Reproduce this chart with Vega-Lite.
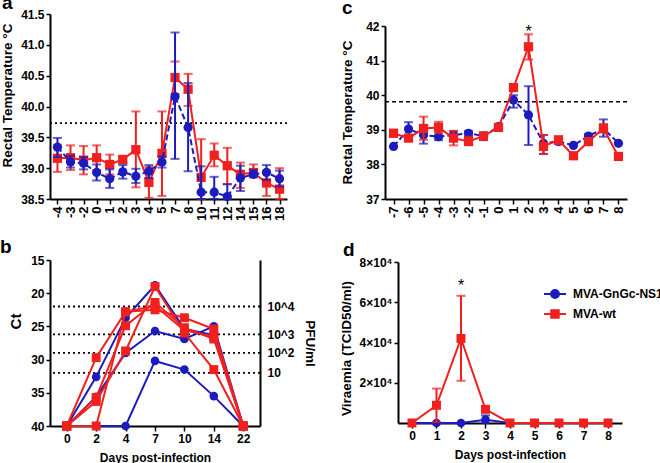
{
"$schema":"https://vega.github.io/schema/vega-lite/v6.json",
"autosize":{"type":"none"},
"padding":{"left":50,"top":14,"right":610,"bottom":449},
"background":"white",
"config":{"view":{"stroke":null},"font":"Liberation Sans",
 "axis":{"labelFont":"Liberation Sans","titleFont":"Liberation Sans","labelFontWeight":"bold","titleFontWeight":"bold","labelColor":"#000","titleColor":"#000","domainColor":"#000","tickColor":"#000","domainWidth":2,"tickWidth":1.5,"grid":false,"labelFontSize":12,"titleFontSize":13.5,"tickSize":4,"labelPadding":2,"labelOverlap":false},
 "title":{"font":"Liberation Sans","fontWeight":"bold","fontSize":19,"color":"#000","anchor":"start","frame":"group"}},
"datasets":{
"tA":[
{"d":-4,"g":"W","m":39.16,"lo":38.94,"hi":39.38},{"d":-3,"g":"W","m":39.17,"lo":38.97,"hi":39.37},{"d":-2,"g":"W","m":39.13,"lo":38.90,"hi":39.36},{"d":0,"g":"W","m":39.17,"lo":38.97,"hi":39.37},{"d":1,"g":"W","m":39.06,"lo":38.90,"hi":39.22},{"d":2,"g":"W","m":39.14,"lo":39.08,"hi":39.20},{"d":3,"g":"W","m":39.30,"lo":38.69,"hi":39.92},{"d":4,"g":"W","m":38.77,"lo":38.52,"hi":39.02},{"d":5,"g":"W","m":39.24,"lo":38.55,"hi":39.92},{"d":7,"g":"W","m":40.47,"lo":40.20,"hi":40.73},{"d":8,"g":"W","m":40.28,"lo":40.01,"hi":40.53},{"d":10,"g":"W","m":38.85,"lo":38.23,"hi":39.47},{"d":11,"g":"W","m":39.21,"lo":39.03,"hi":39.40},{"d":12,"g":"W","m":39.04,"lo":38.74,"hi":39.33},{"d":14,"g":"W","m":38.90,"lo":38.68,"hi":39.09},{"d":15,"g":"W","m":38.93,"lo":38.88,"hi":39.06},{"d":16,"g":"W","m":38.76,"lo":38.55,"hi":38.96},{"d":18,"g":"W","m":38.66,"lo":38.45,"hi":39.00},
{"d":-4,"g":"B","m":39.34,"lo":39.18,"hi":39.49},{"d":-3,"g":"B","m":39.10,"lo":39.01,"hi":39.20},{"d":-2,"g":"B","m":39.08,"lo":38.98,"hi":39.18},{"d":0,"g":"B","m":38.93,"lo":38.80,"hi":39.06},{"d":1,"g":"B","m":38.83,"lo":38.68,"hi":38.98},{"d":2,"g":"B","m":38.94,"lo":38.83,"hi":39.05},{"d":3,"g":"B","m":38.87,"lo":38.76,"hi":38.99},{"d":4,"g":"B","m":38.95,"lo":38.84,"hi":39.05},{"d":5,"g":"B","m":39.10,"lo":39.01,"hi":39.19},{"d":7,"g":"B","m":40.16,"lo":39.15,"hi":41.20},{"d":8,"g":"B","m":39.66,"lo":38.95,"hi":40.38},{"d":10,"g":"B","m":38.61,"lo":38.20,"hi":39.03},{"d":11,"g":"B","m":38.61,"lo":38.35,"hi":38.86},{"d":12,"g":"B","m":38.54,"lo":38.35,"hi":38.74},{"d":14,"g":"B","m":38.84,"lo":38.63,"hi":39.04},{"d":15,"g":"B","m":38.90,"lo":38.85,"hi":38.97},{"d":16,"g":"B","m":38.93,"lo":38.81,"hi":39.05},{"d":18,"g":"B","m":38.83,"lo":38.70,"hi":38.96}],
"tC":[
{"d":-7,"g":"W","m":38.90,"lo":38.80,"hi":39.00},{"d":-6,"g":"W","m":38.76,"lo":38.70,"hi":38.82},{"d":-5,"g":"W","m":39.04,"lo":38.71,"hi":39.38},{"d":-4,"g":"W","m":39.07,"lo":38.90,"hi":39.23},{"d":-3,"g":"W","m":38.76,"lo":38.55,"hi":38.97},{"d":-2,"g":"W","m":38.66,"lo":38.58,"hi":38.80},{"d":-1,"g":"W","m":38.82,"lo":38.75,"hi":38.90},{"d":0,"g":"W","m":39.07,"lo":39.00,"hi":39.14},{"d":1,"g":"W","m":40.22,"lo":40.15,"hi":40.30},{"d":2,"g":"W","m":41.40,"lo":41.03,"hi":41.76},{"d":3,"g":"W","m":38.52,"lo":38.30,"hi":38.85},{"d":4,"g":"W","m":38.71,"lo":38.58,"hi":38.80},{"d":5,"g":"W","m":38.25,"lo":38.25,"hi":38.25},{"d":6,"g":"W","m":38.66,"lo":38.66,"hi":38.66},{"d":7,"g":"W","m":39.04,"lo":38.92,"hi":39.17},{"d":8,"g":"W","m":38.23,"lo":38.23,"hi":38.23},
{"d":-7,"g":"B","m":38.52,"lo":38.52,"hi":38.52},{"d":-6,"g":"B","m":39.02,"lo":38.82,"hi":39.22},{"d":-5,"g":"B","m":38.85,"lo":38.60,"hi":39.08},{"d":-4,"g":"B","m":38.80,"lo":38.70,"hi":38.95},{"d":-3,"g":"B","m":38.85,"lo":38.72,"hi":38.96},{"d":-2,"g":"B","m":38.90,"lo":38.82,"hi":38.97},{"d":-1,"g":"B","m":38.82,"lo":38.70,"hi":38.92},{"d":0,"g":"B","m":39.09,"lo":39.02,"hi":39.16},{"d":1,"g":"B","m":39.86,"lo":39.64,"hi":40.00},{"d":2,"g":"B","m":39.43,"lo":38.56,"hi":40.26},{"d":3,"g":"B","m":38.61,"lo":38.30,"hi":38.85},{"d":4,"g":"B","m":38.66,"lo":38.60,"hi":38.72},{"d":5,"g":"B","m":38.55,"lo":38.55,"hi":38.55},{"d":6,"g":"B","m":38.82,"lo":38.74,"hi":38.88},{"d":7,"g":"B","m":39.04,"lo":38.80,"hi":39.30},{"d":8,"g":"B","m":38.61,"lo":38.61,"hi":38.61}],
"tB":[
{"d":0,"g":"B","a":"B1","ct":40},{"d":2,"g":"B","a":"B1","ct":32.6},{"d":4,"g":"B","a":"B1","ct":23.7},{"d":7,"g":"B","a":"B1","ct":18.8},{"d":10,"g":"B","a":"B1","ct":25.4},{"d":14,"g":"B","a":"B1","ct":26.3},{"d":22,"g":"B","a":"B1","ct":40},
{"d":0,"g":"B","a":"B2","ct":40},{"d":2,"g":"B","a":"B2","ct":35.6},{"d":4,"g":"B","a":"B2","ct":29.0},{"d":7,"g":"B","a":"B2","ct":25.7},{"d":10,"g":"B","a":"B2","ct":26.9},{"d":14,"g":"B","a":"B2","ct":25.0},{"d":22,"g":"B","a":"B2","ct":40},
{"d":0,"g":"B","a":"B3","ct":40},{"d":2,"g":"B","a":"B3","ct":40},{"d":4,"g":"B","a":"B3","ct":40},{"d":7,"g":"B","a":"B3","ct":30.2},{"d":10,"g":"B","a":"B3","ct":31.5},{"d":14,"g":"B","a":"B3","ct":35.5},{"d":22,"g":"B","a":"B3","ct":40},
{"d":0,"g":"W","a":"R1","ct":40},{"d":2,"g":"W","a":"R1","ct":29.7},{"d":4,"g":"W","a":"R1","ct":22.8},{"d":7,"g":"W","a":"R1","ct":22.5},{"d":10,"g":"W","a":"R1","ct":23.7},{"d":14,"g":"W","a":"R1","ct":25.4},{"d":22,"g":"W","a":"R1","ct":40},
{"d":0,"g":"W","a":"R2","ct":40},{"d":2,"g":"W","a":"R2","ct":35.7},{"d":4,"g":"W","a":"R2","ct":24.9},{"d":7,"g":"W","a":"R2","ct":21.4},{"d":10,"g":"W","a":"R2","ct":25.2},{"d":14,"g":"W","a":"R2","ct":26.9},{"d":22,"g":"W","a":"R2","ct":40},
{"d":0,"g":"W","a":"R3","ct":40},{"d":2,"g":"W","a":"R3","ct":36.3},{"d":4,"g":"W","a":"R3","ct":28.7},{"d":7,"g":"W","a":"R3","ct":19.0},{"d":10,"g":"W","a":"R3","ct":26.0},{"d":14,"g":"W","a":"R3","ct":31.5},{"d":22,"g":"W","a":"R3","ct":40},
{"d":0,"g":"W","a":"R4","ct":40},{"d":2,"g":"W","a":"R4","ct":40},{"d":4,"g":"W","a":"R4","ct":22.8},{"d":7,"g":"W","a":"R4","ct":21.9},{"d":10,"g":"W","a":"R4","ct":25.6},{"d":14,"g":"W","a":"R4","ct":26.5},{"d":22,"g":"W","a":"R4","ct":40}],
"tD":[
{"d":0,"g":"MVA-GnGc-NS1","m":0,"lo":0,"hi":0},{"d":1,"g":"MVA-GnGc-NS1","m":0,"lo":0,"hi":0},{"d":2,"g":"MVA-GnGc-NS1","m":0,"lo":0,"hi":0},{"d":3,"g":"MVA-GnGc-NS1","m":1660,"lo":0,"hi":3800},{"d":4,"g":"MVA-GnGc-NS1","m":0,"lo":0,"hi":0},{"d":5,"g":"MVA-GnGc-NS1","m":0,"lo":0,"hi":0},{"d":6,"g":"MVA-GnGc-NS1","m":0,"lo":0,"hi":0},{"d":7,"g":"MVA-GnGc-NS1","m":0,"lo":0,"hi":0},{"d":8,"g":"MVA-GnGc-NS1","m":0,"lo":0,"hi":0},
{"d":0,"g":"MVA-wt","m":0,"lo":0,"hi":0},{"d":1,"g":"MVA-wt","m":8800,"lo":500,"hi":17100},{"d":2,"g":"MVA-wt","m":42000,"lo":21000,"hi":63200},{"d":3,"g":"MVA-wt","m":6800,"lo":5800,"hi":7800},{"d":4,"g":"MVA-wt","m":0,"lo":0,"hi":0},{"d":5,"g":"MVA-wt","m":0,"lo":0,"hi":0},{"d":6,"g":"MVA-wt","m":0,"lo":0,"hi":0},{"d":7,"g":"MVA-wt","m":0,"lo":0,"hi":0},{"d":8,"g":"MVA-wt","m":0,"lo":0,"hi":0}]
},
"columns":2,
"spacing":{"row":61,"column":93},"bounds":"flush","align":"all",
"concat":[
{"width":237,"height":185,
 "title":{"text":"a","dx":-48,"dy":5,"offset":0},
 "layer":[
  {"data":{"values":[{"v":39.73}]},"mark":{"type":"rule","strokeDash":[2,3],"strokeWidth":1.8,"color":"#000"},
   "encoding":{"y":{"field":"v","type":"quantitative","scale":{"domain":[38.5,41.5],"nice":false,"zero":false,"clamp":true},"axis":{"title":"Rectal Temperature °C","values":[38.5,39,39.5,40,40.5,41,41.5],"tickCount":20,"format":".1f","titlePadding":6,"titleY":81}}}},
  {"data":{"name":"tA"},"transform":[{"filter":"datum.g=='W'"}],"mark":{"type":"errorbar","ticks":{"size":9,"thickness":2},"rule":{"strokeWidth":2},"color":"#f0201e"},
   "encoding":{"x":{"field":"d","type":"ordinal","scale":{"type":"point","padding":0.57,"domain":[-4,-3,-2,0,1,2,3,4,5,7,8,10,11,12,14,15,16,18]},"axis":{"title":null,"labelAngle":-90,"tickSize":5,"labelFontSize":13}},
    "y":{"field":"lo","type":"quantitative","scale":{"domain":[38.5,41.5],"nice":false,"zero":false,"clamp":true},"title":"Rectal Temperature °C"},"y2":{"field":"hi"}}},
  {"data":{"name":"tA"},"transform":[{"filter":"datum.g=='W'"}],"mark":{"type":"line","color":"#f0201e","strokeWidth":2},
   "encoding":{"x":{"field":"d","type":"ordinal","title":null},"y":{"field":"m","type":"quantitative","title":"Rectal Temperature °C"}}},
  {"data":{"name":"tA"},"transform":[{"filter":"datum.g=='W'"}],"mark":{"type":"point","shape":"square","filled":true,"size":85,"opacity":1,"color":"#f0201e"},
   "encoding":{"x":{"field":"d","type":"ordinal","title":null},"y":{"field":"m","type":"quantitative","title":"Rectal Temperature °C"}}},
  {"data":{"name":"tA"},"transform":[{"filter":"datum.g=='B'"}],"mark":{"type":"errorbar","ticks":{"size":9,"thickness":2},"rule":{"strokeWidth":2},"color":"#1c1cbe"},
   "encoding":{"x":{"field":"d","type":"ordinal","title":null},"y":{"field":"lo","type":"quantitative","title":"Rectal Temperature °C"},"y2":{"field":"hi"}}},
  {"data":{"name":"tA"},"transform":[{"filter":"datum.g=='B'"}],"mark":{"type":"line","color":"#1c1cbe","strokeWidth":2,"strokeDash":[6,3]},
   "encoding":{"x":{"field":"d","type":"ordinal","title":null},"y":{"field":"m","type":"quantitative","title":"Rectal Temperature °C"}}},
  {"data":{"name":"tA"},"transform":[{"filter":"datum.g=='B'"}],"mark":{"type":"point","shape":"circle","filled":true,"size":85,"opacity":1,"color":"#1c1cbe"},
   "encoding":{"x":{"field":"d","type":"ordinal","title":null},"y":{"field":"m","type":"quantitative","title":"Rectal Temperature °C"}}}
 ]},
{"width":242,"height":185,
 "title":{"text":"c","dx":-43,"dy":4,"offset":0},
 "layer":[
  {"data":{"values":[{"v":39.81}]},"mark":{"type":"rule","strokeDash":[4,3],"strokeWidth":1.5,"color":"#000"},
   "encoding":{"y":{"field":"v","type":"quantitative","scale":{"domain":[37,42],"nice":false,"zero":false,"range":[185,12]},"axis":{"title":"Rectal Temperature °C","values":[37,38,39,40,41,42],"tickCount":20,"format":"d","titlePadding":11,"titleY":98}}}},
  {"data":{"name":"tC"},"transform":[{"filter":"datum.g=='B' && datum.hi > datum.lo"}],"mark":{"type":"errorbar","ticks":{"size":9,"thickness":2},"rule":{"strokeWidth":2},"color":"#1c1cbe"},
   "encoding":{"x":{"field":"d","type":"ordinal","scale":{"type":"point","padding":0.57,"domain":[-7,-6,-5,-4,-3,-2,-1,0,1,2,3,4,5,6,7,8]},"axis":{"title":null,"labelAngle":-90,"tickSize":5,"labelFontSize":13}},
    "y":{"field":"lo","type":"quantitative","title":"Rectal Temperature °C"},"y2":{"field":"hi"}}},
  {"data":{"name":"tC"},"transform":[{"filter":"datum.g=='B'"}],"mark":{"type":"line","color":"#1c1cbe","strokeWidth":2,"strokeDash":[6,3]},
   "encoding":{"x":{"field":"d","type":"ordinal","title":null},"y":{"field":"m","type":"quantitative","title":"Rectal Temperature °C"}}},
  {"data":{"name":"tC"},"transform":[{"filter":"datum.g=='B'"}],"mark":{"type":"point","shape":"circle","filled":true,"size":85,"opacity":1,"color":"#1c1cbe"},
   "encoding":{"x":{"field":"d","type":"ordinal","title":null},"y":{"field":"m","type":"quantitative","title":"Rectal Temperature °C"}}},
  {"data":{"name":"tC"},"transform":[{"filter":"datum.g=='W' && datum.hi > datum.lo"}],"mark":{"type":"errorbar","ticks":{"size":9,"thickness":2},"rule":{"strokeWidth":2},"color":"#f0201e"},
   "encoding":{"x":{"field":"d","type":"ordinal","title":null},"y":{"field":"lo","type":"quantitative","title":"Rectal Temperature °C"},"y2":{"field":"hi"}}},
  {"data":{"name":"tC"},"transform":[{"filter":"datum.g=='W'"}],"mark":{"type":"line","color":"#f0201e","strokeWidth":2},
   "encoding":{"x":{"field":"d","type":"ordinal","title":null},"y":{"field":"m","type":"quantitative","title":"Rectal Temperature °C"}}},
  {"data":{"name":"tC"},"transform":[{"filter":"datum.g=='W'"}],"mark":{"type":"point","shape":"square","filled":true,"size":85,"opacity":1,"color":"#f0201e"},
   "encoding":{"x":{"field":"d","type":"ordinal","title":null},"y":{"field":"m","type":"quantitative","title":"Rectal Temperature °C"}}},
  {"data":{"values":[{"d":2,"v":41.95}]},"mark":{"type":"text","text":"*","fontSize":16,"color":"#000","baseline":"middle","dy":4},
   "encoding":{"x":{"field":"d","type":"ordinal","title":null},"y":{"field":"v","type":"quantitative","title":"Rectal Temperature °C"}}}
 ]},
{"width":210,"height":166,
 "title":{"text":"b","dx":-50,"dy":3,"offset":0},
 "resolve":{"scale":{"y":"independent"},"axis":{"y":"independent"}},
 "layer":[
  {"data":{"values":[{"v":22},{"v":26.2},{"v":29},{"v":32}]},"mark":{"type":"rule","strokeDash":[2,3],"strokeWidth":1.8,"color":"#000"},
   "encoding":{"y":{"field":"v","type":"quantitative","scale":{"domain":[15,40],"reverse":true,"nice":false,"zero":false},
     "axis":{"orient":"right","title":"PFU/ml","values":[22,26.2,29,32],"tickCount":20,"labelExpr":"datum.value==22?'10^4':datum.value==26.2?'10^3':datum.value==29?'10^2':'10'","ticks":false,"labelPadding":7,"titlePadding":8}}}},
  {"layer":[
   {"data":{"name":"tB"},"transform":[{"filter":"datum.g=='B'"}],"mark":{"type":"line","color":"#1c1cbe","strokeWidth":2},
    "encoding":{"x":{"field":"d","type":"ordinal","scale":{"type":"point","padding":0.57,"domain":[0,2,4,7,10,14,22]},"axis":{"title":"Days post-infection","titleFontSize":12,"labelAngle":0,"tickSize":5,"titlePadding":8}},
     "y":{"field":"ct","type":"quantitative","scale":{"domain":[15,40],"reverse":true,"nice":false,"zero":false},"axis":{"title":"Ct","titleFontSize":15,"values":[15,20,25,30,35,40],"tickCount":20,"format":"d","titlePadding":7,"titleY":61}},
     "detail":{"field":"a"}}},
   {"data":{"name":"tB"},"transform":[{"filter":"datum.g=='B'"}],"mark":{"type":"point","shape":"circle","filled":true,"size":75,"opacity":1,"color":"#1c1cbe"},
    "encoding":{"x":{"field":"d","type":"ordinal","title":"Days post-infection"},"y":{"field":"ct","type":"quantitative","title":"Ct"}}},
   {"data":{"name":"tB"},"transform":[{"filter":"datum.g=='W'"}],"mark":{"type":"line","color":"#f0201e","strokeWidth":2},
    "encoding":{"x":{"field":"d","type":"ordinal","title":"Days post-infection"},"y":{"field":"ct","type":"quantitative","title":"Ct"},"detail":{"field":"a"}}},
   {"data":{"name":"tB"},"transform":[{"filter":"datum.g=='W'"}],"mark":{"type":"point","shape":"square","filled":true,"size":80,"opacity":1,"color":"#f0201e"},
    "encoding":{"x":{"field":"d","type":"ordinal","title":"Days post-infection"},"y":{"field":"ct","type":"quantitative","title":"Ct"}}}
  ]}
 ]},
{"width":237,"height":163,
 "title":{"text":"d","dx":-42,"dy":4,"offset":0},
 "layer":[
  {"data":{"name":"tD"},"transform":[{"filter":"datum.g=='MVA-GnGc-NS1' && datum.hi > datum.lo"}],"mark":{"type":"errorbar","ticks":{"size":9,"thickness":2},"rule":{"strokeWidth":2},"color":"#1c1cbe"},
   "encoding":{"x":{"field":"d","type":"ordinal","scale":{"type":"point","padding":0.57,"domain":[0,1,2,3,4,5,6,7,8],"range":[13,237]},"axis":{"title":"Days post-infection","titleFontSize":12,"labelAngle":0,"tickSize":5,"titlePadding":8}},
    "y":{"field":"lo","type":"quantitative","scale":{"domain":[0,80000],"nice":false,"range":[163,2]},"axis":{"title":"Viraemia (TCID50/ml)","values":[20000,40000,60000,80000],"tickCount":20,"labelExpr":"(datum.value/10000) + '×10⁴'","titlePadding":6,"offset":-13,"titleY":88}},"y2":{"field":"hi"}}},
  {"data":{"name":"tD"},"transform":[{"filter":"datum.g=='MVA-GnGc-NS1'"}],"mark":{"type":"line","color":"#1c1cbe","strokeWidth":2},
   "encoding":{"x":{"field":"d","type":"ordinal","title":"Days post-infection"},"y":{"field":"m","type":"quantitative","title":"Viraemia (TCID50/ml)"}}},
  {"data":{"name":"tD"},"transform":[{"filter":"datum.g=='MVA-GnGc-NS1'"}],"mark":{"type":"point","shape":"circle","filled":true,"size":75,"opacity":1,"color":"#1c1cbe"},
   "encoding":{"x":{"field":"d","type":"ordinal","title":"Days post-infection"},"y":{"field":"m","type":"quantitative","title":"Viraemia (TCID50/ml)"}}},
  {"data":{"name":"tD"},"transform":[{"filter":"datum.g=='MVA-wt' && datum.hi > datum.lo"}],"mark":{"type":"errorbar","ticks":{"size":9,"thickness":2},"rule":{"strokeWidth":2},"color":"#f0201e"},
   "encoding":{"x":{"field":"d","type":"ordinal","title":"Days post-infection"},"y":{"field":"lo","type":"quantitative","title":"Viraemia (TCID50/ml)"},"y2":{"field":"hi"}}},
  {"data":{"name":"tD"},"transform":[{"filter":"datum.g=='MVA-wt'"}],"mark":{"type":"line","color":"#f0201e","strokeWidth":2},
   "encoding":{"x":{"field":"d","type":"ordinal","title":"Days post-infection"},"y":{"field":"m","type":"quantitative","title":"Viraemia (TCID50/ml)"}}},
  {"data":{"name":"tD"},"transform":[{"filter":"datum.g=='MVA-wt'"}],"mark":{"type":"point","shape":"square","filled":true,"size":80,"opacity":1,"color":"#f0201e"},
   "encoding":{"x":{"field":"d","type":"ordinal","title":"Days post-infection"},"y":{"field":"m","type":"quantitative","title":"Viraemia (TCID50/ml)"}}},
  {"data":{"values":[{"d":2,"v":70000}]},"mark":{"type":"text","text":"*","fontSize":16,"color":"#000","baseline":"middle","dy":4},
   "encoding":{"x":{"field":"d","type":"ordinal","title":"Days post-infection"},"y":{"field":"v","type":"quantitative","title":"Viraemia (TCID50/ml)"}}},
  {"data":{"name":"tD"},"mark":{"type":"point","filled":true,"opacity":0},
   "encoding":{"x":{"field":"d","type":"ordinal","title":"Days post-infection"},"y":{"field":"m","type":"quantitative","title":"Viraemia (TCID50/ml)"},
    "shape":{"field":"g","type":"nominal","scale":{"domain":["MVA-GnGc-NS1","MVA-wt"],"range":["M-1,0H1M0.36,0A0.36,0.36,0,1,1,-0.36,0A0.36,0.36,0,1,1,0.36,0Z","M-1,0H1M-0.34,-0.34H0.34V0.34H-0.34Z"]},
     "legend":{"orient":"none","legendX":493,"legendY":268,"title":null,"labelFontSize":12,"labelFontWeight":"bold","labelFont":"Liberation Sans","labelColor":"#000","symbolSize":484,"symbolStrokeWidth":2,"rowPadding":0,"labelOffset":6,"symbolOpacity":1}},
    "fill":{"field":"g","type":"nominal","scale":{"domain":["MVA-GnGc-NS1","MVA-wt"],"range":["#1c1cbe","#f0201e"]},
     "legend":{"orient":"none","legendX":493,"legendY":268,"title":null,"labelFontSize":12,"labelFontWeight":"bold","labelFont":"Liberation Sans","labelColor":"#000","symbolSize":484,"symbolStrokeWidth":2,"rowPadding":0,"labelOffset":6,"symbolOpacity":1}},
    "stroke":{"field":"g","type":"nominal","scale":{"domain":["MVA-GnGc-NS1","MVA-wt"],"range":["#1c1cbe","#f0201e"]},
     "legend":{"orient":"none","legendX":493,"legendY":268,"title":null,"labelFontSize":12,"labelFontWeight":"bold","labelFont":"Liberation Sans","labelColor":"#000","symbolSize":484,"symbolStrokeWidth":2,"rowPadding":0,"labelOffset":6,"symbolOpacity":1}}}}
 ]}
]
}
